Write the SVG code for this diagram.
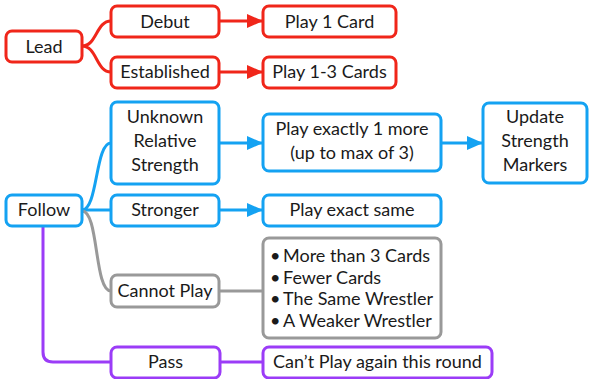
<svg xmlns="http://www.w3.org/2000/svg" width="589" height="379" viewBox="0 0 589 379">
<style>
rect{fill:#fff;stroke-width:3}
.r{stroke:#f0261a}.b{stroke:#14a2f2}.g{stroke:#999}.p{stroke:#9b3cf7}
text{font-family:Lato,"Noto Sans",sans-serif;font-size:18px;fill:#1a1a1a;text-anchor:middle}
.l{text-anchor:start}
path{fill:none;stroke-width:3}
</style>
<defs>
<marker id="ar" markerUnits="userSpaceOnUse" markerWidth="16" markerHeight="14" refX="16" refY="7" orient="auto"><path d="M0,0L16,7L0,14z" style="fill:#f0261a;stroke:none"/></marker>
<marker id="ab" markerUnits="userSpaceOnUse" markerWidth="16" markerHeight="14" refX="16" refY="7" orient="auto"><path d="M0,0L16,7L0,14z" style="fill:#14a2f2;stroke:none"/></marker>
</defs>
<g id="connectors">
<path class="r" d="M82,46C97,46 96,21 111,21"/>
<path class="r" d="M82,46C97,46 96,72 111,72"/>
<path class="r" d="M219,21H263" marker-end="url(#ar)"/>
<path class="r" d="M219,72H263" marker-end="url(#ar)"/>
<path class="b" d="M82,210C98,210 95,143 111,143"/>
<path class="b" d="M82,210H111"/>
<path class="b" d="M219,143H263" marker-end="url(#ab)"/>
<path class="b" d="M441,143H483" marker-end="url(#ab)"/>
<path class="b" d="M219,210H263" marker-end="url(#ab)"/>
<path class="g" d="M82,211C99,211 94,291 111,291"/>
<path class="g" d="M219,291H263"/>
<path class="p" d="M43,226V352Q43,362 53,362H111"/>
<path class="p" d="M220,362H263"/>
</g>
<g id="lead"><rect class="r" x="6" y="31" width="76" height="31" rx="6"/><text x="44" y="52.5">Lead</text></g>
<g id="debut"><rect class="r" x="111" y="6" width="108" height="31" rx="6"/><text x="165" y="27.5">Debut</text></g>
<g id="established"><rect class="r" x="111" y="57" width="108" height="31" rx="6"/><text x="165" y="78">Established</text></g>
<g id="play1"><rect class="r" x="263" y="6" width="133" height="31" rx="6"/><text x="329.5" y="27.5">Play 1 Card</text></g>
<g id="play13"><rect class="r" x="263" y="57" width="133" height="31" rx="6"/><text x="329.5" y="78">Play 1-3 Cards</text></g>
<g id="follow"><rect class="b" x="6" y="195" width="76" height="31" rx="6"/><text x="44" y="216">Follow</text></g>
<g id="unknown"><rect class="b" x="111" y="102" width="108" height="82" rx="6"/><text x="165" y="123">Unknown</text><text x="165" y="147">Relative</text><text x="165" y="171">Strength</text></g>
<g id="playmore"><rect class="b" x="263" y="114" width="178" height="57" rx="6"/><text x="352" y="135">Play exactly 1 more</text><text x="352" y="159">(up to max of 3)</text></g>
<g id="update"><rect class="b" x="483" y="103" width="104" height="80" rx="6"/><text x="535" y="123">Update</text><text x="535" y="147">Strength</text><text x="535" y="171">Markers</text></g>
<g id="stronger"><rect class="b" x="111" y="195" width="108" height="31" rx="6"/><text x="165" y="216">Stronger</text></g>
<g id="same"><rect class="b" x="263" y="195" width="178" height="31" rx="6"/><text x="352" y="216">Play exact same</text></g>
<g id="cannot"><rect class="g" x="111" y="275" width="108" height="32" rx="6"/><text x="165" y="297">Cannot Play</text></g>
<g id="list"><rect class="g" x="263" y="238" width="178" height="100" rx="6"/>
<text class="l" y="262"><tspan x="270">•</tspan><tspan x="283">More than 3 Cards</tspan></text>
<text class="l" y="284"><tspan x="270">•</tspan><tspan x="283">Fewer Cards</tspan></text>
<text class="l" y="305"><tspan x="270">•</tspan><tspan x="283">The Same Wrestler</tspan></text>
<text class="l" y="327"><tspan x="270">•</tspan><tspan x="283">A Weaker Wrestler</tspan></text></g>
<g id="pass"><rect class="p" x="111" y="347" width="109" height="31" rx="6"/><text x="165.5" y="368">Pass</text></g>
<g id="cantplay"><rect class="p" x="263" y="347" width="229" height="31" rx="6"/><text x="377.5" y="368">Can’t Play again this round</text></g>
</svg>
